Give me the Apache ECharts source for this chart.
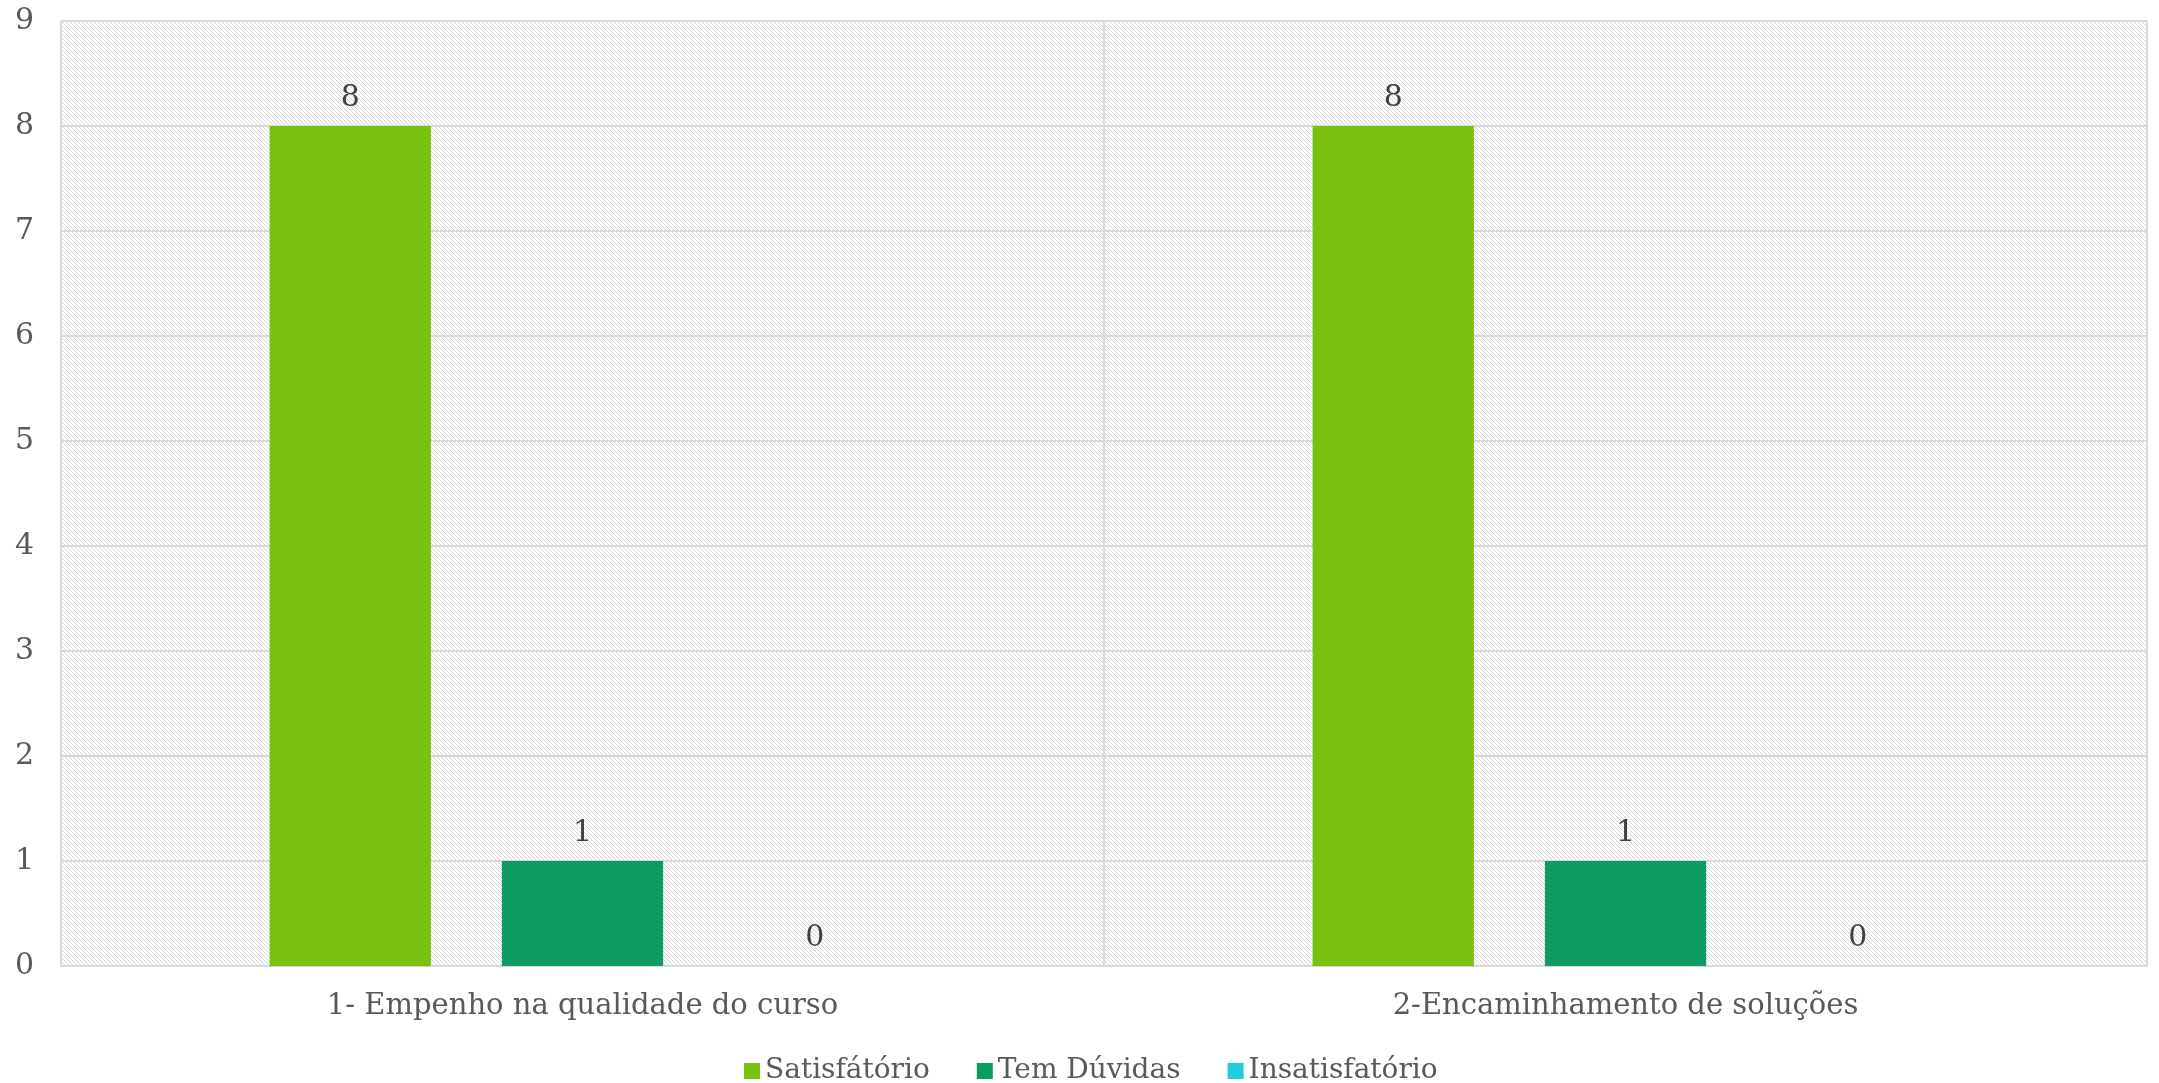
<!DOCTYPE html>
<html>
<head>
<meta charset="utf-8">
<script src="https://cdn.jsdelivr.net/npm/echarts@6/dist/echarts.min.js"></script>
<style>
html,body{margin:0;padding:0;background:#fff;}
#chart{width:2159px;height:1083px;}
</style>
</head>
<body>
<div id="chart"></div>
<script>
var categories = ['1- Empenho na qualidade do curso', '2-Encaminhamento de soluções'];
var seriesNames = ['Satisfátório', 'Tem Dúvidas', 'Insatisfatório'];
var satisfatorio = [8, 8];
var temDuvidas = [1, 1];
var insatisfatorio = [0, 0];
var seriesColors = ['#78C20F', '#0D9B63', '#22CDDD'];

var FONT = 'DejaVu Serif, serif';

// light downward diagonal hatch
var tile = document.createElement('canvas');
tile.width = 4; tile.height = 4;
var tctx = tile.getContext('2d');
tctx.fillStyle = '#ffffff';
tctx.fillRect(0, 0, 4, 4);
tctx.fillStyle = '#d6d6d6';
for (var i = 0; i < 4; i++) { tctx.fillRect(i, i, 1, 1); }

var chart = echarts.init(document.getElementById('chart'), null, {renderer: 'canvas'});

var dataLists = [satisfatorio, temDuvidas, insatisfatorio];
var series = seriesNames.map(function (name, idx) {
  return {
    name: name,
    type: 'bar',
    data: dataLists[idx],
    barGap: '44%',
    barCategoryGap: '40%',
    itemStyle: {color: seriesColors[idx]},
    label: {
      show: true,
      position: 'top',
      distance: 13,
      color: '#404040',
      fontFamily: FONT,
      fontSize: 30
    }
  };
});

chart.setOption({
  animation: false,
  backgroundColor: '#ffffff',
  grid: {
    left: 61, right: 12, top: 21, bottom: 117,
    show: true,
    backgroundColor: {image: tile, repeat: 'repeat'},
    borderColor: '#d9d9d9',
    borderWidth: 1
  },
  legend: {
    data: seriesNames,
    left: 739,
    top: 1052,
    itemWidth: 16,
    itemHeight: 16,
    itemGap: 47,
    icon: 'rect',
    textStyle: {color: '#595959', fontFamily: FONT, fontSize: 28}
  },
  xAxis: {
    type: 'category',
    data: categories,
    axisLine: {show: true, lineStyle: {color: '#d9d9d9', width: 2}},
    axisTick: {show: false},
    splitLine: {show: true, lineStyle: {color: '#d9d9d9', width: 2}},
    axisLabel: {color: '#595959', fontFamily: FONT, fontSize: 29, margin: 26}
  },
  yAxis: {
    type: 'value',
    min: 0, max: 9, interval: 1,
    axisLine: {show: false},
    axisTick: {show: false},
    splitLine: {show: true, lineStyle: {color: '#d9d9d9', width: 2}},
    axisLabel: {color: '#595959', fontFamily: FONT, fontSize: 30, margin: 27}
  },
  series: series
});
</script>
</body>
</html>
